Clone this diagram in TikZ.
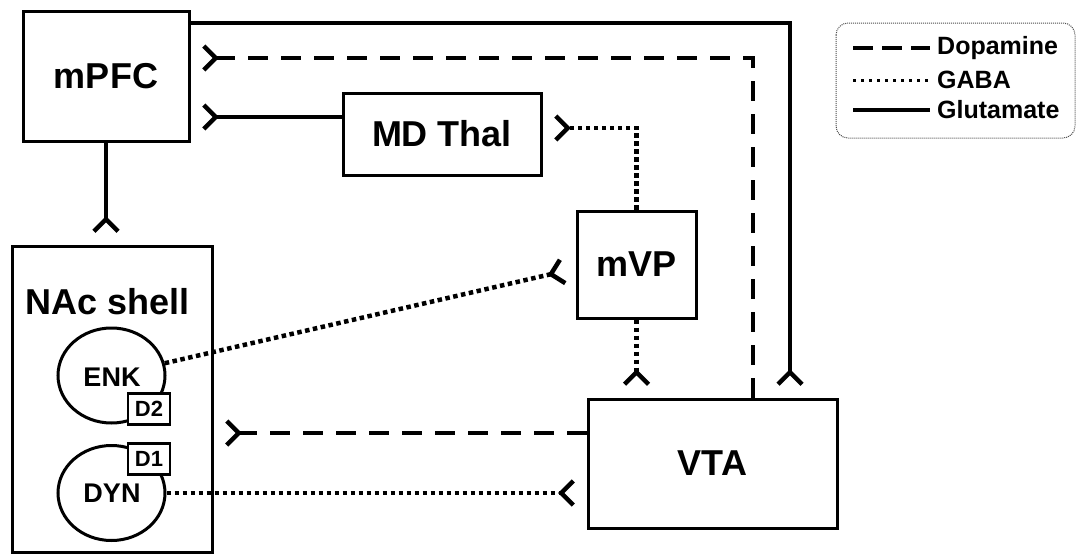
\documentclass[tikz,border=0pt]{standalone}
\usepackage{fontspec}
\setmainfont{Liberation Sans}
\usetikzlibrary{arrows.meta,calc,shapes.geometric}
\begin{document}
\begin{tikzpicture}[x=1pt,y=-1pt,
  box/.style={draw,line width=3pt,inner sep=0pt,font=\fontsize{36}{40}\selectfont\bfseries},
  cell/.style={draw,ellipse,line width=3pt,inner sep=0pt,minimum width=107pt,minimum height=95pt},
  lbl/.style={inner sep=0pt,font=\fontsize{27}{30}\selectfont\bfseries},
  rec/.style={draw,fill=white,line width=2.5pt,inner sep=0pt,minimum width=42pt,minimum height=31pt,font=\fontsize{22}{24}\selectfont\bfseries},
  syn/.style={-{Straight Barb[reversed,length=12pt,width=24pt,line width=4.5pt]},shorten >=11pt},
  conn/.style={line width=4.5pt},
  glu/.style={conn},
  dop/.style={conn,dash pattern=on 20pt off 13pt},
  gaba/.style={conn,dash pattern=on 4.5pt off 3.5pt},
  leg/.style={font=\fontsize{25}{28}\selectfont\bfseries,anchor=west,inner sep=0pt}
]
\useasboundingbox (0,0) rectangle (1076,554);
% boxes
\node[box,minimum width=166pt,minimum height=130pt] (mPFC) at (106,76) {mPFC};
\node[box,minimum width=198pt,minimum height=82pt] (MDT) at (442,134) {MD Thal};
\node[box,minimum width=119pt,minimum height=107pt] (mVP) at (636.5,264.5) {mVP};
\node[box,minimum width=249pt,minimum height=129pt] (VTA) at (712.5,463.5) {VTA};
\node[box,minimum width=200pt,minimum height=306pt] (NAc) at (112,399) {};
\node[font=\fontsize{36}{40}\selectfont\bfseries,inner sep=0pt] (NAcl) at (108,302) {NAc shell};
% cells
\node[cell] (ENK) at (111.5,375.5) {};
\node[lbl] (ENKl) at (112,377) {ENK};
\node[cell] (DYN) at (111.5,493) {};
\node[lbl] (DYNl) at (112,493) {DYN};
\node[rec] (D2) at (149,409) {D2};
\node[rec] (D1) at (149,459) {D1};
% glutamate
\draw[glu,syn] ($(mPFC.east)+(0,-53)$) -| ($(VTA.north)+(77.5,0)$);
\draw[glu,syn] ($(MDT.west)+(0,-17)$) coordinate (m1) -- (m1 -| mPFC.east);
\draw[glu,syn] (mPFC.south) -- (mPFC.south |- NAc.north);
% dopamine
\draw[dop,syn] ($(VTA.north)+(40.5,0)$) |- ($(mPFC.east)+(0,-18)$);
\draw[dop,syn] ($(VTA.west)+(0,-30.5)$) coordinate (v1) -- (v1 -| NAc.east);
% gaba
\draw[gaba,syn] (mVP.north) |- ($(MDT.east)+(0,-6)$);
\draw[gaba,syn] (mVP.south) -- (mVP.south |- VTA.north);
\draw[gaba,syn] (ENK) -- ($(mVP.west)+(0,4)$);
\draw[gaba,syn] (DYN) -- (DYN -| VTA.west);
% legend
\draw[line width=1pt,densely dotted,rounded corners=12pt,black!70] (836,23) rectangle (1075,138);
\coordinate (l1a) at (853,48); \coordinate (l1b) at (930,48);
\coordinate (l2a) at (853,80); \coordinate (l2b) at (930,80);
\coordinate (l3a) at (853,110); \coordinate (l3b) at (930,110);
\draw[line width=4.5pt,dash pattern=on 20pt off 9pt] (l1a) -- (l1b);
\draw[line width=3pt,dash pattern=on 3pt off 5pt] (l2a) -- (l2b);
\draw[line width=4.5pt] (l3a) -- (l3b);
\node[leg] (Ldop) at (937,48) {Dopamine};
\node[leg] (Lgaba) at (937,80) {GABA};
\node[leg] (Lglu) at (937,110) {Glutamate};
\end{tikzpicture}
\end{document}
